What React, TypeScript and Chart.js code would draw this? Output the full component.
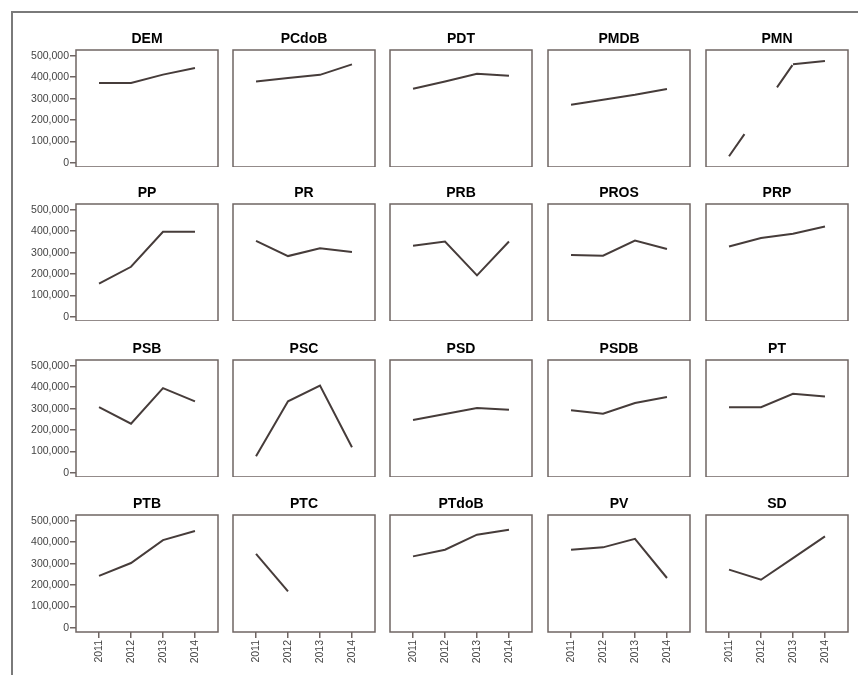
import React, { useEffect, useRef } from "react";
import { Chart, registerables } from "chart.js";

Chart.register(...registerables);

const years = [2011, 2012, 2013, 2014];
const yTicks = [0, 100000, 200000, 300000, 400000, 500000];

const parties = [
  "DEM", "PCdoB", "PDT", "PMDB", "PMN",
  "PP", "PR", "PRB", "PROS", "PRP",
  "PSB", "PSC", "PSD", "PSDB", "PT",
  "PTB", "PTC", "PTdoB", "PV", "SD",
];

const DEM = [373000, 373000, 412000, 443000];
const PCdoB = [380000, 396000, 411000, 460000];
const PDT = [346000, 380000, 416000, 407000];
const PMDB = [272000, 295000, 318000, 345000];
const PMN = [31000, null, 460000, 476000];
const PP = [155000, 234000, 397000, 397000];
const PR = [355000, 284000, 320000, 303000];
const PRB = [332000, 352000, 194000, 352000];
const PROS = [289000, 286000, 356000, 317000];
const PRP = [329000, 368000, 388000, 422000];
const PSB = [307000, 230000, 396000, 334000];
const PSC = [78000, 334000, 408000, 120000];
const PSD = [247000, 275000, 303000, 295000];
const PSDB = [292000, 276000, 326000, 354000];
const PT = [307000, 307000, 369000, 357000];
const PTB = [243000, 303000, 410000, 452000];
const PTC = [346000, 171000, null, null];
const PTdoB = [334000, 365000, 435000, 458000];
const PV = [365000, 376000, 416000, 233000];
const SD = [272000, 225000, 326000, 427000];

const seriesList = [
  DEM, PCdoB, PDT, PMDB, PMN,
  PP, PR, PRB, PROS, PRP,
  PSB, PSC, PSD, PSDB, PT,
  PTB, PTC, PTdoB, PV, SD,
];

const colLefts = [76, 233, 390, 548, 706];
const rowTops = [50, 204, 360, 515];
const PANEL_W = 142;
const PANEL_H = 117;
const SIDE = 64;
const TITLE_H = 22;
const XAXIS_H = 40;

const LINE_COLOR = "#463c3a";
const BOX_COLOR = "#6f6563";
const FONT = "'Liberation Sans', Arial, sans-serif";

const boxPlugin = {
  id: "panelBox",
  afterDraw(chart: any) {
    const { ctx, chartArea } = chart;
    ctx.save();
    ctx.strokeStyle = BOX_COLOR;
    ctx.lineWidth = 1.5;
    ctx.strokeRect(chartArea.left, chartArea.top, chartArea.right - chartArea.left, chartArea.bottom - chartArea.top);
    ctx.restore();
  },
};

function Panel({ idx }: { idx: number }) {
  const ref = useRef<HTMLCanvasElement | null>(null);
  const row = Math.floor(idx / 5);
  const col = idx % 5;
  const showY = col === 0;
  const showX = row === 3;
  const w = SIDE + PANEL_W + SIDE;
  const xH = showX ? XAXIS_H : 0;
  const h = TITLE_H + PANEL_H + xH;

  useEffect(() => {
    if (!ref.current) return;
    const values = seriesList[idx];
    const chart = new Chart(ref.current, {
      type: "line",
      data: {
        datasets: [
          {
            data: years.map((y, i) => ({ x: y, y: values[i] })),
            borderColor: LINE_COLOR,
            borderWidth: 2,
            pointRadius: 0,
            tension: 0,
            spanGaps: true,
            segment: {
              borderDash: (ctx: any) => (ctx.p0.skip || ctx.p1.skip ? [27, 57] : undefined),
            },
          } as any,
        ],
      },
      options: {
        responsive: false,
        animation: false,
        devicePixelRatio: 1,
        layout: { autoPadding: false, padding: 0 },
        plugins: {
          legend: { display: false },
          tooltip: { enabled: false },
          title: {
            display: true,
            text: parties[idx],
            color: "#000",
            font: { family: FONT, size: 14, weight: "bold", lineHeight: 1.2 },
            padding: { top: 2.5, bottom: 2.7 },
          },
        },
        scales: {
          x: {
            type: "linear",
            min: 2010.28,
            max: 2014.72,
            display: showX,
            afterBuildTicks: (s: any) => {
              s.ticks = years.map((v) => ({ value: v }));
            },
            afterFit: (s: any) => {
              s.height = xH;
              s.paddingLeft = 0;
              s.paddingRight = 0;
            },
            border: { display: false },
            grid: { drawOnChartArea: false, drawTicks: true, tickLength: 6, color: BOX_COLOR, lineWidth: 1.5 },
            ticks: {
              minRotation: 90,
              maxRotation: 90,
              padding: 2,
              autoSkip: false,
              color: "#444",
              font: { family: FONT, size: 10.5 },
              callback: (v: any) => String(v),
            },
          },
          y: {
            type: "linear",
            position: "left",
            min: -19000,
            max: 527000,
            display: showY,
            afterBuildTicks: (s: any) => {
              s.ticks = yTicks.map((v) => ({ value: v }));
            },
            afterFit: (s: any) => {
              s.width = SIDE;
              s.paddingTop = 0;
              s.paddingBottom = 0;
            },
            border: { display: false },
            grid: { drawOnChartArea: false, drawTicks: true, tickLength: 6, color: BOX_COLOR, lineWidth: 1.5 },
            ticks: {
              padding: 1,
              autoSkip: false,
              color: "#444",
              font: { family: FONT, size: 10.5 },
              callback: (v: any) => Number(v).toLocaleString("en-US"),
            },
          },
          yRight: {
            type: "linear",
            position: "right",
            display: false,
            min: -19000,
            max: 527000,
            afterFit: (s: any) => {
              s.width = SIDE;
              s.paddingTop = 0;
              s.paddingBottom = 0;
            },
          },
        },
      },
      plugins: [boxPlugin],
    } as any);
    return () => chart.destroy();
  }, [idx]);

  return (
    <div
      style={{
        position: "absolute",
        left: colLefts[col] - SIDE,
        top: rowTops[row] - TITLE_H,
        width: w,
        height: h,
      }}
    >
      <canvas ref={ref} width={w} height={h} style={{ width: w, height: h, display: "block" }} />
    </div>
  );
}

export default function App() {
  return (
    <div
      style={{
        position: "absolute",
        left: 0,
        top: 0,
        width: 858,
        height: 675,
        overflow: "hidden",
        background: "#fff",
      }}
    >
      <div
        style={{
          position: "absolute",
          left: 11,
          top: 11,
          width: 900,
          height: 700,
          borderLeft: "2px solid #7a7a7a",
          borderTop: "2px solid #7a7a7a",
        }}
      />
      {parties.map((_, i) => (
        <Panel key={i} idx={i} />
      ))}
    </div>
  );
}
